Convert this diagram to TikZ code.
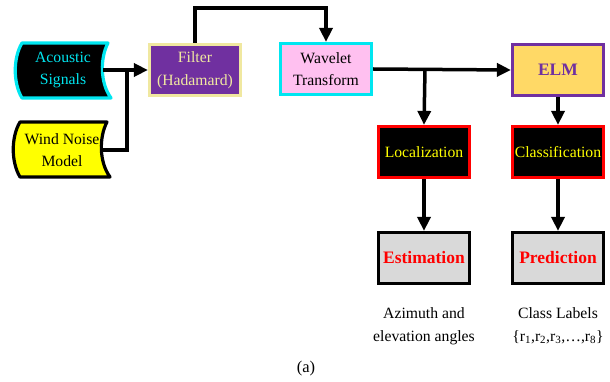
\documentclass[tikz,border=0pt]{standalone}
\usepackage{fontspec}
\setmainfont{Liberation Serif}
\usetikzlibrary{arrows.meta}
\definecolor{cyanb}{RGB}{0,230,240}
\definecolor{filterfill}{RGB}{112,48,160}
\definecolor{filtertext}{RGB}{240,232,160}
\definecolor{pinkfill}{RGB}{255,192,240}
\definecolor{elmfill}{RGB}{255,217,102}
\definecolor{elmpurple}{RGB}{112,48,160}
\definecolor{greyfill}{RGB}{217,217,217}
\definecolor{yel}{RGB}{255,255,0}
\begin{document}
\begin{tikzpicture}[x=1pt,y=-1pt,
  txt/.style={font=\fontsize{15.7}{22.5}\selectfont, align=center},
  box/.style={txt, draw, line width=3.2pt, minimum width=91pt, minimum height=51pt, inner sep=1pt},
  sd/.style={txt, minimum width=92pt, minimum height=55pt, inner sep=0pt},
  conn/.style={line width=3.5pt},
  arr/.style={line width=3.5pt, -{Triangle[length=14pt,width=13pt]}},
]
\useasboundingbox (0,0) rectangle (610,382);
% stored-data shapes
\filldraw[fill=black, draw=cyanb, line width=3.2pt, line join=round]
  (22,43) -- (108,43) .. controls (100,58) and (100,83) .. (111,98) -- (22,98)
  .. controls (13,83) and (13,58) .. (22,43) -- cycle;
\node[sd, text=cyanb] (ac) at (63,70) {Acoustic\\Signals};
\filldraw[fill=yel, draw=black, line width=3.2pt, line join=round]
  (20,122) -- (107,122) .. controls (99,137) and (99,162) .. (110,177) -- (20,177)
  .. controls (11,162) and (11,137) .. (20,122) -- cycle;
\node[sd, text=black] (wn) at (62,150) {Wind Noise\\Model};
% boxes
\node[box, fill=filterfill, draw=filtertext, text=filtertext] (filter) at (195,70) {Filter\\(Hadamard)};
\node[box, fill=pinkfill, draw=cyanb, text=black] (wav) at (326,69) {Wavelet\\Transform};
\node[box, fill=elmfill, draw=elmpurple, text=elmpurple, font=\fontsize{17.5}{20}\selectfont\bfseries] (elm) at (558,70) {ELM};
\node[box, fill=black, draw=red, text=yel] (loc) at (424,152) {Localization};
\node[box, fill=black, draw=red, text=yel] (cls) at (558,152) {Classification};
\node[box, fill=greyfill, draw=black, text=red, font=\fontsize{17.5}{20}\selectfont\bfseries] (est) at (424,258) {Estimation};
\node[box, fill=greyfill, draw=black, text=red, font=\fontsize{17.5}{20}\selectfont\bfseries] (pred) at (558,258) {Prediction};
% labels
\node[txt, text=black] (lab1) at (424,326) {Azimuth and\\elevation angles};
\node[txt, text=black] (lab2) at (558,326) {Class Labels\\\{r\textsubscript{1},r\textsubscript{2},r\textsubscript{3},\dots,r\textsubscript{8}\}};
\node[txt, text=black, font=\fontsize{16.5}{20}\selectfont] (capa) at (306,369) {(a)};
% connectors
\coordinate (j1) at (127,70);
\coordinate (j2) at (425,69);
\draw[arr] ([xshift=-6pt]ac.east) -- (filter.west);
\draw[conn] ([xshift=-5pt]wn.east) -| (j1);
\draw[arr] (filter.north) -- ++(0,-35) -| (wav.north);
\draw[arr] (wav.east) -- (elm.west);
\draw[arr] (j2) -- (loc.north);
\draw[arr] (elm.south) -- (cls.north);
\draw[arr] (loc.south) -- (est.north);
\draw[arr] (cls.south) -- (pred.north);
\end{tikzpicture}
\end{document}
